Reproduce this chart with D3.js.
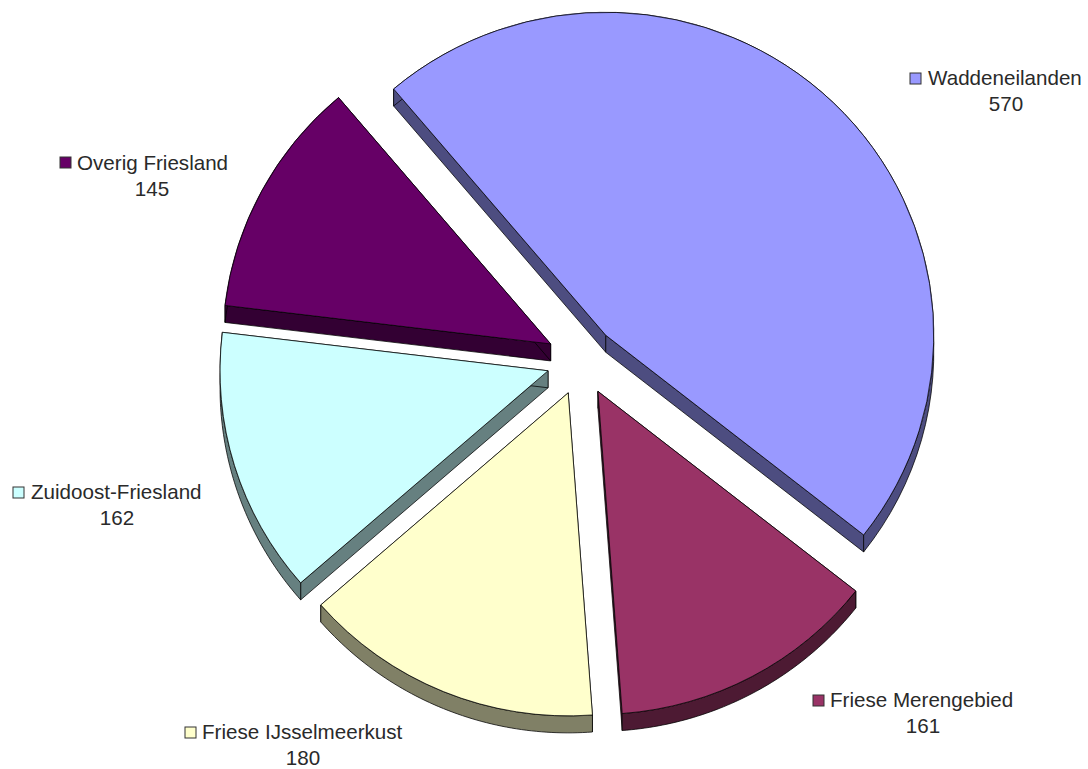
<!DOCTYPE html>
<html><head><meta charset="utf-8">
<script src="https://cdn.jsdelivr.net/npm/d3@7"></script>
<style>html,body{margin:0;padding:0;background:#fff}svg{display:block}text{font-family:"Liberation Sans",Arial,sans-serif;font-size:20.6px;fill:#2a2a2a}</style>
</head><body><svg id="c" width="1088" height="769"></svg>
<script>
const categories = ["Waddeneilanden","Friese Merengebied","Friese IJsselmeerkust","Zuidoost-Friesland","Overig Friesland"];
const values = [570,161,180,162,145];
const topColours = ["#9999ff","#993366","#ffffcc","#ccffff","#660066"];
const sideColours = ["#4d4d80","#4d1a33","#808066","#668080","#330033"];

// layout
const W=1088,H=769, cx=581.5, cy=360.5, Rx=328, Ry=323, depth=17, explode=35;
const startDeg=-40.3;
const labelLayout=[
 {kx:910,ky:73,tx:928,ty:85,vx:1006,vy:111},
 {kx:813,ky:695,tx:830,ty:707,vx:923,vy:733},
 {kx:185,ky:727,tx:202,ty:739,vx:303,vy:765},
 {kx:13,ky:487,tx:31,ty:499,vx:117,vy:525},
 {kx:60,ky:157,tx:77,ty:170,vx:152,vy:196}
];

const svg=d3.select("#c");
const rad=d=>d*Math.PI/180;
const pie=d3.pie().sort(null).startAngle(rad(startDeg)).endAngle(rad(startDeg+360));
const arcs=pie(values);
const arc=d3.arc().innerRadius(0).outerRadius(Rx);
const line=d3.line();

const slices=svg.selectAll("g.slice").data(arcs).join("g").attr("class","slice")
  .attr("transform",d=>{
    const m=(d.startAngle+d.endAngle)/2;
    return `translate(${cx+explode*Math.sin(m)},${cy-explode*Math.cos(m)})`;
  });

const pt=(a,y)=>[Rx*Math.sin(a),-Ry*Math.cos(a)+y];
const wallStroke={stroke:"#000","stroke-width":1,"stroke-linejoin":"round","stroke-opacity":0.75};
function styled(sel){Object.entries(wallStroke).forEach(([k,v])=>sel.attr(k,v));return sel;}

// radial walls
["startAngle","endAngle"].forEach(key=>{
  styled(slices.append("path")
    .attr("d",d=>{const p=pt(d[key],0),q=pt(d[key],depth);return line([[0,0],p,q,[0,depth]])+"Z";})
    .attr("fill",(d,i)=>sideColours[i]));
});
// rim wall
styled(slices.append("path")
  .attr("d",d=>{
    const n=60, as=d3.range(n+1).map(i=>d.startAngle+(d.endAngle-d.startAngle)*i/n);
    return line(as.map(a=>pt(a,0)).concat(as.slice().reverse().map(a=>pt(a,depth))))+"Z";
  })
  .attr("fill",(d,i)=>sideColours[i]));
// top face
styled(slices.append("path").attr("d",arc).attr("transform",`scale(1,${Ry/Rx})`).attr("fill",(d,i)=>topColours[i]));

// legend labels
const lab=svg.selectAll("g.lab").data(categories).join("g").attr("class","lab");
lab.append("rect").attr("x",(d,i)=>labelLayout[i].kx).attr("y",(d,i)=>labelLayout[i].ky)
  .attr("width",11).attr("height",11).attr("fill",(d,i)=>topColours[i]).attr("stroke","#333").attr("stroke-width",1);
lab.append("text").attr("x",(d,i)=>labelLayout[i].tx).attr("y",(d,i)=>labelLayout[i].ty).text(d=>d);
lab.append("text").attr("x",(d,i)=>labelLayout[i].vx).attr("y",(d,i)=>labelLayout[i].vy)
  .attr("text-anchor","middle").text((d,i)=>values[i]);
</script></body></html>
